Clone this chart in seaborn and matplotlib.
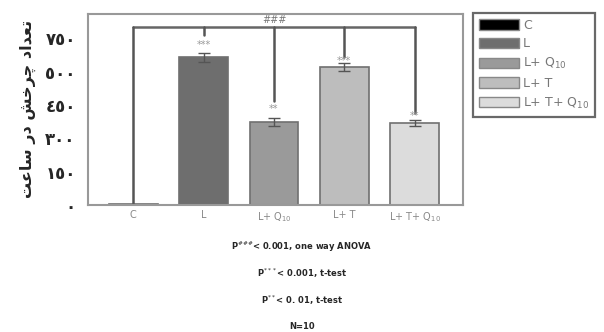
import numpy as np
import pandas as pd
import matplotlib.pyplot as plt
import seaborn as sns

# Data
groups = ["C", "L", "L+ Q10", "L+ T", "L+ T+ Q10"]
legend_labels = ["C", "L", "L+ Q$_{10}$", "L+ T", "L+ T+ Q$_{10}$"]
tick_labels = ["C", "L", "L+ Q$_{10}$", "L+ T", "L+ T+ Q$_{10}$"]
means = [4, 665, 373, 620, 368]
errors = [2, 20, 18, 18, 15]
stars = ["", "***", "**", "***", "**"]
star_y = [0, 720, 432, 650, 402]
drop_y = [0, 765, 470, 665, 415]
bracket_y = 800
colors = ["#000000", "#6e6e6e", "#9a9a9a", "#bdbdbd", "#dcdcdc"]
ytick_values = [0, 150, 300, 450, 600, 750]
ytick_labels = ["\u0660", "\u0661\u0665\u0660", "\u0663\u0660\u0660",
                "\u0664\u0665\u0660", "\u0665\u0660\u0660", "\u0667\u0665\u0660"]
footnotes = [r"P$^{\#\#\#}$< 0.001, one way ANOVA",
             r"P$^{***}$< 0.001, t-test",
             r"P$^{**}$< 0. 01, t-test",
             "N=10"]

# y label "تعداد چرخش در ساعت" in presentation forms, then reversed to visual order
shaped = ("\uFE97\uFECC\uFEAA\uFE8D\uFEA9 "
          "\uFB7C\uFEAE\uFEA7\uFEB6 "
          "\uFEA9\uFEAD "
          "\uFEB3\uFE8E\uFECB\uFE96")
ylabel = shaped[::-1]

df = pd.DataFrame({"group": groups, "value": means})

sns.set_style("white")
plt.rcParams['font.family'] = ['DejaVu Sans']

fig = plt.figure(figsize=(6.04, 3.32), dpi=100)
ax = fig.add_axes([0.146, 0.383, 0.621, 0.575])

sns.barplot(data=df, x="group", y="value", hue="group", palette=colors,
            order=groups, hue_order=groups, width=0.69, dodge=False,
            edgecolor="#707070", linewidth=1.2, legend=False, ax=ax)

x = np.arange(len(groups))
ax.errorbar(x[1:], means[1:], yerr=errors[1:], fmt="none", ecolor="#555555",
            elinewidth=1, capsize=4)

# bracket for the one way ANOVA
ax.plot([x[0], x[-1]], [bracket_y, bracket_y], color="#666666", lw=1.8)
for i in range(len(groups)):
    ax.plot([x[i], x[i]], [drop_y[i], bracket_y], color="#555555", lw=1.8)
    if stars[i]:
        ax.text(x[i], star_y[i], stars[i], ha="center", va="center",
                fontsize=7, color="#999999")
ax.text(x[2], bracket_y + 12, "###", ha="center", va="bottom", fontsize=7,
        color="#777777")

ax.set_xlim(-0.64, 4.69)
ax.set_ylim(0, 860)
ax.set_yticks(ytick_values)
ax.set_yticklabels(ytick_labels, fontsize=12, fontweight="bold")
ax.set_xticks(x)
ax.set_xticklabels(tick_labels, fontsize=7, color="#888888")
ax.tick_params(axis="y", length=3, color="#aaaaaa", pad=6)
ax.tick_params(axis="x", length=0, pad=4)
ax.set_xlabel("")
ax.set_ylabel(ylabel, fontsize=11.5, fontweight="bold", labelpad=7)
for s in ax.spines.values():
    s.set_color("#999999")
    s.set_linewidth(1.5)

# legend
handles = [plt.Rectangle((0, 0), 1, 1, facecolor=c, edgecolor="#888888")
           for c in colors]
leg = fig.legend(handles, legend_labels, loc="upper left",
                 bbox_to_anchor=(0.783, 0.962), frameon=True, fancybox=False,
                 shadow=False, fontsize=9, handlelength=3.2, handleheight=0.9,
                 labelspacing=0.45, borderpad=0.5, handletextpad=0.3,
                 borderaxespad=0)
leg.get_frame().set_edgecolor("#444444")
leg.get_frame().set_linewidth(1.6)
for t in leg.get_texts():
    t.set_color("#777777")

# footnotes below the chart
for k, txt in enumerate(footnotes):
    fig.text(0.5, 1 - (247 + 26.5 * k) / 332, txt, ha="center", va="center",
             fontsize=6, fontweight="bold")

fig.savefig("out.png", dpi=100)
